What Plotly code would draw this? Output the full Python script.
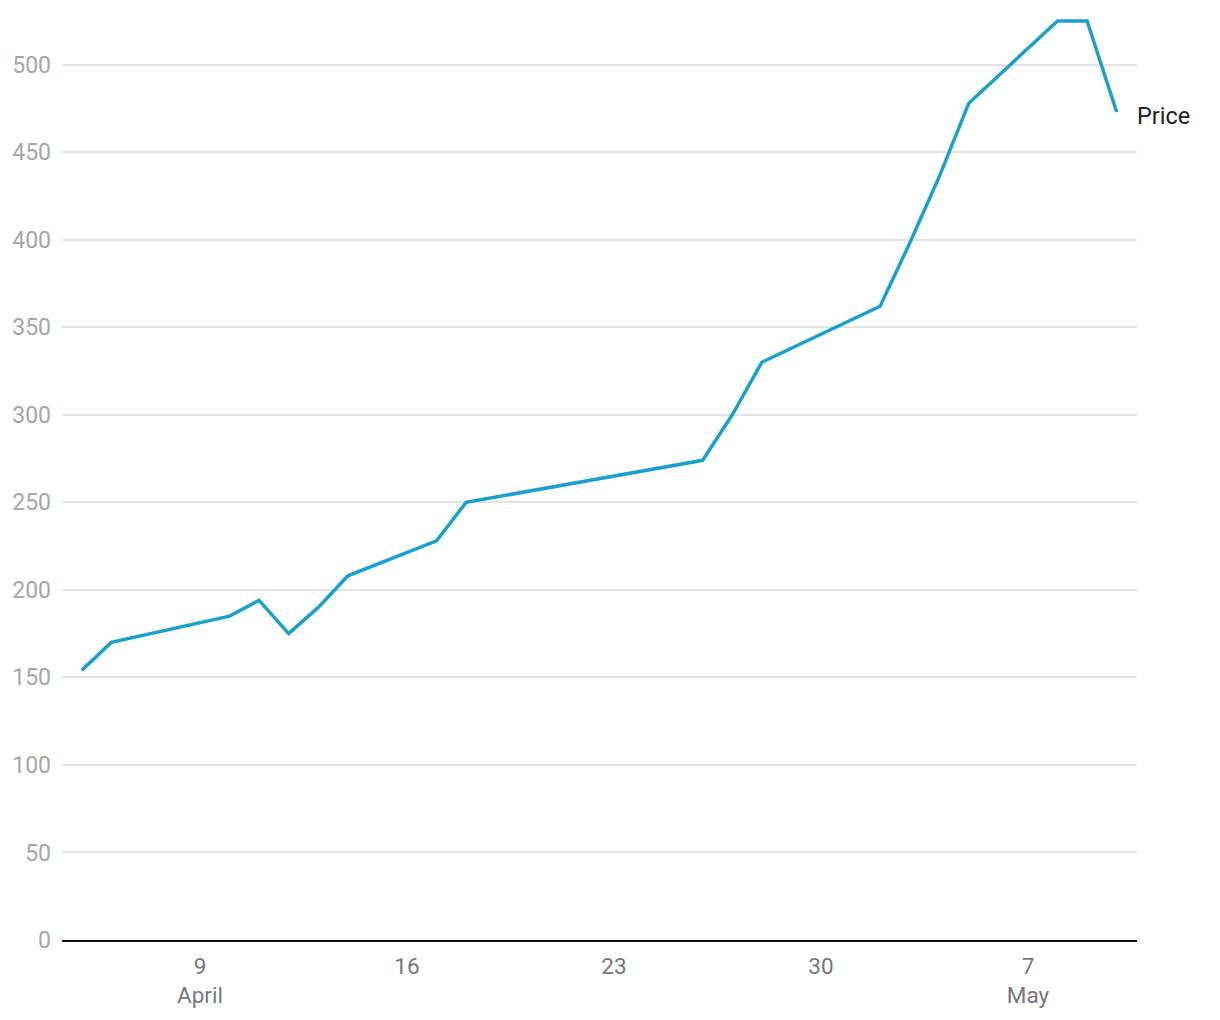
import plotly.graph_objects as go

dates = [
    "2018-04-05", "2018-04-06", "2018-04-10", "2018-04-11", "2018-04-12",
    "2018-04-13", "2018-04-14", "2018-04-17", "2018-04-18", "2018-04-26",
    "2018-04-27", "2018-04-28", "2018-05-02", "2018-05-03", "2018-05-04",
    "2018-05-05", "2018-05-08", "2018-05-09", "2018-05-10",
]
price = [154, 170, 185, 194, 175, 190, 208, 228, 250, 274,
         300, 330, 362, 398, 436, 478, 525, 525, 473]

tick_dates = ["2018-04-09", "2018-04-16", "2018-04-23", "2018-04-30", "2018-05-07"]
tick_text = ["9<br>April", "16", "23", "30", "7<br>May"]

fig = go.Figure()
fig.add_trace(go.Scatter(
    x=dates, y=price, mode="lines", name="Price",
    line=dict(color="#18a1cf", width=3.5),
))

fig.add_annotation(
    x=dates[-1], y=price[-1], text="Price", showarrow=False,
    xanchor="left", yanchor="middle", xshift=18, yshift=-4,
    font=dict(family="Roboto", size=23.5, color="#222222"),
)

fig.update_xaxes(
    range=["2018-04-04 08:00", "2018-05-10 16:30"],
    tickvals=tick_dates, ticktext=tick_text,
    showgrid=False, showline=True, linecolor="#111111", linewidth=2,
    ticks="", ticklabelstandoff=5,
    tickfont=dict(family="Roboto", size=22.5, color="#777777"),
    zeroline=False,
)
fig.update_yaxes(
    range=[0, 529.5], dtick=50, showgrid=True, gridcolor="#e3e3e3", gridwidth=1.5,
    zeroline=False, ticks="", ticklabelstandoff=10,
    tickfont=dict(family="Roboto", size=23, color="#a6a6a6"),
)
fig.update_layout(
    width=1220, height=1020,
    margin=dict(l=54, r=91, t=5, b=88),
    plot_bgcolor="white", paper_bgcolor="white",
    showlegend=False,
    font=dict(family="Roboto"),
)

fig.write_html("out.html")
